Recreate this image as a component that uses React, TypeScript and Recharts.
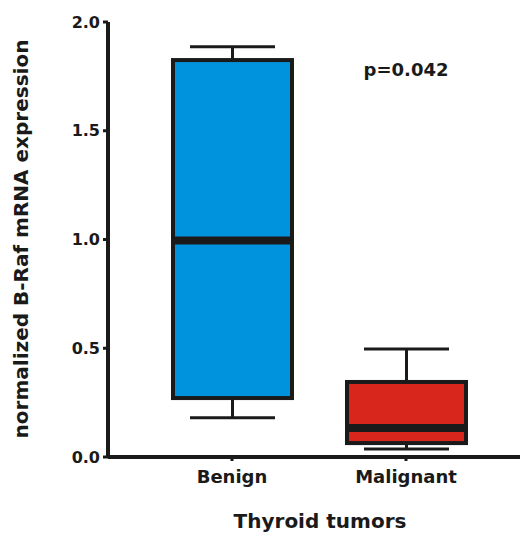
import React from "react";
import { ComposedChart, Bar, XAxis, YAxis, ReferenceDot } from "recharts";

// Box-and-whisker values
const groups = ["Benign", "Malignant"];
const mins = [0.18, 0.037];
const q1s = [0.271, 0.064];
const medians = [0.995, 0.133];
const q3s = [1.825, 0.345];
const maxs = [1.886, 0.497];
const fills = ["#0093DD", "#D9261C"];
const yTicks = [0, 0.5, 1, 1.5, 2];

const INK = "#1a1a1a";
const FONT = "'DejaVu Sans', Verdana, sans-serif";

const data = groups.map((g, i) => ({
  group: g,
  range: [mins[i], maxs[i]],
  min: mins[i],
  q1: q1s[i],
  median: medians[i],
  q3: q3s[i],
  max: maxs[i],
  fill: fills[i],
}));

// Draws one box from the bar's own [min, max] geometry so every y comes from the axis scale.
function BoxShape(props: any) {
  const { x, y, width, height, payload } = props;
  const top = height < 0 ? y + height : y;
  const h = Math.abs(height);
  const span = payload.max - payload.min;
  const py = (v: number) => top + (h * (payload.max - v)) / span;
  const cx = x + width / 2;
  const cap = 85;
  return (
    <g>
      <line x1={cx} x2={cx} y1={py(payload.max)} y2={py(payload.q3)} stroke={INK} strokeWidth={3} />
      <line x1={cx} x2={cx} y1={py(payload.q1)} y2={py(payload.min)} stroke={INK} strokeWidth={3} />
      <line x1={cx - cap / 2} x2={cx + cap / 2} y1={py(payload.max)} y2={py(payload.max)} stroke={INK} strokeWidth={3} />
      <line x1={cx - cap / 2} x2={cx + cap / 2} y1={py(payload.min)} y2={py(payload.min)} stroke={INK} strokeWidth={3} />
      <rect
        x={x}
        y={py(payload.q3)}
        width={width}
        height={py(payload.q1) - py(payload.q3)}
        fill={payload.fill}
        stroke={INK}
        strokeWidth={4}
      />
      <line x1={x} x2={x + width} y1={py(payload.median)} y2={py(payload.median)} stroke={INK} strokeWidth={8} />
    </g>
  );
}

const tickStyle = { fill: INK, fontFamily: FONT, fontWeight: 700 };

export default function App() {
  return (
    <div style={{ position: "absolute", left: 0, top: 0, width: 522, height: 533, background: "#fff" }}>
      <ComposedChart width={522} height={533} data={data} margin={{ top: 22, right: 2, bottom: 0, left: 0 }}>
        <XAxis
          dataKey="group"
          type="category"
          padding={{ left: 37, right: 27 }}
          height={76}
          axisLine={{ stroke: INK, strokeWidth: 4 }}
          tickLine={{ stroke: INK, strokeWidth: 3 }}
          tickSize={4}
          tickMargin={9}
          tick={{ ...tickStyle, fontSize: 18 }}
          label={() => (
            <text
              x={320}
              y={528}
              textAnchor="middle"
              fill={INK}
              fontFamily={FONT}
              fontWeight={700}
              fontSize={20}
            >
              Thyroid tumors
            </text>
          )}
        />
        <YAxis
          type="number"
          domain={[0, 2]}
          ticks={yTicks}
          width={108}
          interval={0}
          axisLine={{ stroke: INK, strokeWidth: 4 }}
          tickLine={{ stroke: INK, strokeWidth: 3 }}
          tickSize={5}
          tickMargin={3}
          tickFormatter={(v: number) => v.toFixed(1)}
          tick={{ ...tickStyle, fontSize: 16 }}
          label={() => (
            <text
              x={21}
              y={239}
              transform="rotate(-90 21 239)"
              textAnchor="middle"
              dominantBaseline="central"
              fill={INK}
              fontFamily={FONT}
              fontWeight={700}
              fontSize={20}
            >
              normalized B-Raf mRNA expression
            </text>
          )}
        />
        <Bar dataKey="range" barSize={119} shape={<BoxShape />} isAnimationActive={false} />
        <ReferenceDot
          x="Malignant"
          y={1.78}
          r={0}
          fill="none"
          stroke="none"
          label={{ value: "p=0.042", position: "center", fill: INK, fontFamily: FONT, fontWeight: 700, fontSize: 18 }}
        />
      </ComposedChart>
    </div>
  );
}
